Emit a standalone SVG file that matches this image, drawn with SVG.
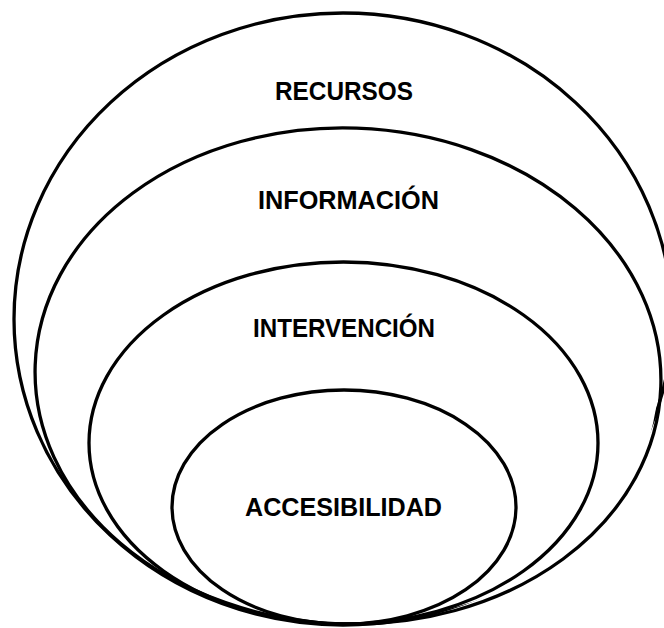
<svg xmlns="http://www.w3.org/2000/svg" width="664" height="628" viewBox="0 0 664 628">
<style>
.ring{fill:none;stroke:#000;stroke-width:3.3}
.lbl{font-family:"Liberation Sans",Arial,sans-serif;font-weight:bold;font-size:25px;fill:#000;text-anchor:middle}
</style>
<defs>
<mask id="outerMask" maskUnits="userSpaceOnUse" x="0" y="0" width="664" height="628">
<rect width="664" height="628" fill="#fff"/>
<ellipse cx="348" cy="376" rx="310" ry="245" transform="rotate(2 348 376)" fill="#000"/>
</mask>
</defs>
<rect width="664" height="628" fill="#fff"/>
<g id="recursos">
<ellipse class="ring" cx="343" cy="319" rx="329" ry="306" mask="url(#outerMask)"/>
<text class="lbl" x="344" y="100" textLength="138" lengthAdjust="spacingAndGlyphs">RECURSOS</text>
</g>
<g id="informacion">
<ellipse class="ring" cx="348" cy="376" rx="313" ry="248" transform="rotate(2 348 376)"/>
<text class="lbl" x="348.5" y="209" textLength="181" lengthAdjust="spacingAndGlyphs">INFORMACIÓN</text>
</g>
<g id="intervencion">
<ellipse class="ring" cx="343.5" cy="443" rx="254.5" ry="181"/>
<text class="lbl" x="344" y="337" textLength="182" lengthAdjust="spacingAndGlyphs">INTERVENCIÓN</text>
</g>
<g id="accesibilidad">
<ellipse class="ring" cx="344" cy="507" rx="172" ry="117"/>
<text class="lbl" x="343.5" y="516" textLength="197" lengthAdjust="spacingAndGlyphs">ACCESIBILIDAD</text>
</g>
<g id="connectors"/>
</svg>
